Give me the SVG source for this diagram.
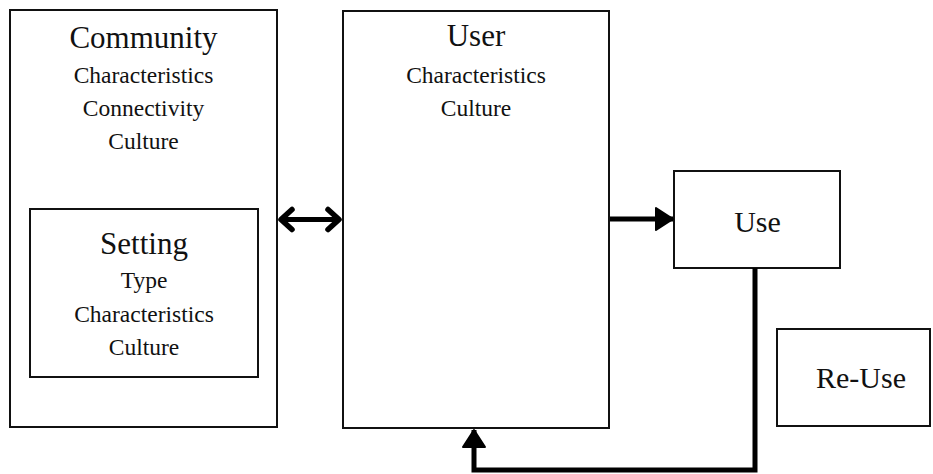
<svg xmlns="http://www.w3.org/2000/svg" width="933" height="474" viewBox="0 0 933 474">
  <style>
    .box { fill: #fff; stroke: #111; stroke-width: 2; }
    .title { font-family: "Liberation Serif", "Times New Roman", serif; font-size: 31px; fill: #111; text-anchor: middle; }
    .item { font-family: "Liberation Serif", "Times New Roman", serif; font-size: 23.5px; fill: #111; text-anchor: middle; }
    .label { font-family: "Liberation Serif", "Times New Roman", serif; font-size: 30px; fill: #111; text-anchor: middle; }
    .conn { fill: none; stroke: #000; stroke-width: 5; }
  </style>
  <defs>
    <!-- open chevron head for the two-way link -->
    <marker id="chev" viewBox="-4 -4 22 30" refX="13" refY="11" markerWidth="22" markerHeight="30" orient="auto-start-reverse" markerUnits="userSpaceOnUse">
      <path d="M2,1 L13,11 L2,21" fill="none" stroke="#000" stroke-width="5.5" stroke-linecap="round" stroke-linejoin="round"/>
    </marker>
    <!-- solid triangle head -->
    <marker id="tri" viewBox="-2 -2 22 28" refX="18" refY="12" markerWidth="22" markerHeight="28" orient="auto" markerUnits="userSpaceOnUse">
      <path d="M1,1 L18,12 L1,23 Z" fill="#000" stroke="#000" stroke-width="2" stroke-linejoin="round"/>
    </marker>
  </defs>

  <g id="community">
    <rect class="box" x="10" y="10" width="267" height="417"/>
    <text class="title" x="143.5" y="48">Community</text>
    <text class="item" x="143.5" y="83">Characteristics</text>
    <text class="item" x="143.5" y="116">Connectivity</text>
    <text class="item" x="143.5" y="149">Culture</text>
  </g>

  <g id="setting">
    <rect class="box" x="30" y="209" width="228" height="168"/>
    <text class="title" x="144" y="254">Setting</text>
    <text class="item" x="144" y="288">Type</text>
    <text class="item" x="144" y="322">Characteristics</text>
    <text class="item" x="144" y="355">Culture</text>
  </g>

  <g id="user">
    <rect class="box" x="343" y="11" width="266" height="417"/>
    <text class="title" x="476" y="46">User</text>
    <text class="item" x="476" y="83">Characteristics</text>
    <text class="item" x="476" y="116">Culture</text>
  </g>

  <g id="use">
    <rect class="box" x="674" y="171" width="166" height="97"/>
    <text class="label" x="757.5" y="232">Use</text>
  </g>

  <g id="reuse">
    <rect class="box" x="777" y="329" width="153" height="97"/>
    <text class="label" x="861" y="388">Re-Use</text>
  </g>

  <g id="connectors">
    <line class="conn" x1="281" y1="219.5" x2="339" y2="219.5" marker-start="url(#chev)" marker-end="url(#chev)"/>
    <line class="conn" x1="610" y1="219" x2="673" y2="219" marker-end="url(#tri)"/>
    <polyline class="conn" points="755,268 755,470 474,470 474,430" stroke-linejoin="miter" marker-end="url(#tri)"/>
  </g>
</svg>
